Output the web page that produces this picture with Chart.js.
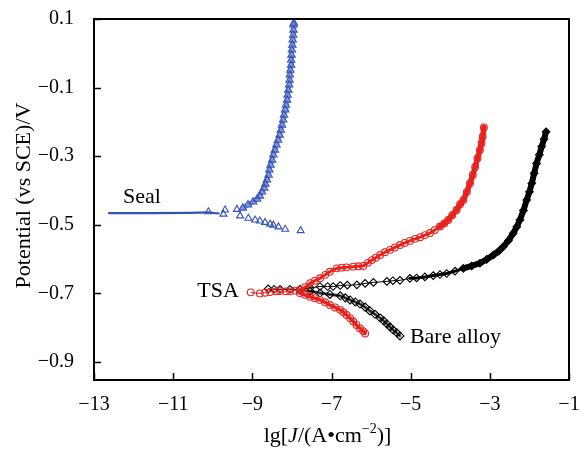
<!DOCTYPE html>
<html>
<head>
<meta charset="utf-8">
<script src="https://cdn.jsdelivr.net/npm/chart.js@4.4.1/dist/chart.umd.min.js"></script>
<style>
  body { margin: 0; background: #fff; }
  #wrap { width: 581px; height: 450px; }
</style>
</head>
<body>
<div id="wrap"><canvas id="tafel" width="581" height="450"></canvas></div>
<script>
// Axis ticks
const xTicks = [-13, -11, -9, -7, -5, -3, -1];
const yTicks = [-0.9, -0.7, -0.5, -0.3, -0.1, 0.1];

// Seal: flat cathodic line, scattered triangles, steep anodic branch  [lg J, E]
const sealLine = [[-12.62, -0.466], [-11.5, -0.466], [-10.6, -0.465], [-10.11, -0.464], [-9.85, -0.467]];
const sealCathodic = [
    [-10.11, -0.462], [-9.73, -0.469], [-9.69, -0.457], [-9.39, -0.455], [-9.31, -0.474],
    [-9.10, -0.481], [-8.93, -0.486], [-8.81, -0.489], [-8.68, -0.493], [-8.55, -0.498],
    [-8.47, -0.501], [-8.34, -0.506], [-8.17, -0.513], [-7.78, -0.517]
];
const sealAnodic = [
    [-9.24, -0.451], [-9.11, -0.442], [-8.98, -0.433], [-8.88, -0.425], [-8.81, -0.416],
    [-8.76, -0.404], [-8.70, -0.393], [-8.67, -0.381], [-8.63, -0.369], [-8.59, -0.355],
    [-8.57, -0.340], [-8.54, -0.326], [-8.50, -0.311], [-8.47, -0.296], [-8.43, -0.282],
    [-8.39, -0.267], [-8.35, -0.253], [-8.31, -0.238], [-8.28, -0.224], [-8.25, -0.209],
    [-8.22, -0.194], [-8.20, -0.180], [-8.17, -0.165], [-8.15, -0.151], [-8.12, -0.136],
    [-8.11, -0.122], [-8.09, -0.107], [-8.07, -0.092], [-8.06, -0.078], [-8.05, -0.063],
    [-8.04, -0.049], [-8.02, -0.034], [-8.02, -0.020], [-8.01, -0.005], [-8.00, 0.010],
    [-7.99, 0.024], [-7.98, 0.039], [-7.97, 0.053], [-7.96, 0.068], [-7.96, 0.083], [-7.95, 0.088]
];

// TSA
const tsaAnodic = [
    [-9.04, -0.697], [-8.81, -0.700], [-8.68, -0.698], [-8.55, -0.696], [-8.40, -0.694],
    [-8.30, -0.693], [-8.15, -0.694], [-8.05, -0.694], [-7.92, -0.692], [-7.80, -0.690],
    [-7.67, -0.682], [-7.54, -0.670], [-7.42, -0.663], [-7.29, -0.656], [-7.16, -0.646],
    [-7.04, -0.637], [-6.87, -0.627], [-6.75, -0.625], [-6.62, -0.624], [-6.45, -0.622],
    [-6.32, -0.621], [-6.20, -0.620], [-6.08, -0.611], [-5.98, -0.603], [-5.88, -0.596],
    [-5.77, -0.588], [-5.65, -0.580], [-5.52, -0.573], [-5.40, -0.566], [-5.27, -0.559],
    [-5.15, -0.553], [-5.02, -0.547], [-4.89, -0.541], [-4.76, -0.536], [-4.64, -0.530],
    [-4.51, -0.524], [-4.39, -0.515], [-4.26, -0.505], [-4.15, -0.496], [-4.05, -0.486],
    [-3.95, -0.472], [-3.84, -0.457], [-3.75, -0.440], [-3.67, -0.428], [-3.58, -0.404],
    [-3.50, -0.379], [-3.43, -0.355], [-3.37, -0.331], [-3.31, -0.306], [-3.25, -0.282],
    [-3.21, -0.262], [-3.18, -0.243], [-3.15, -0.216]
];
const tsaCathodic = [
    [-7.80, -0.699], [-7.67, -0.704], [-7.54, -0.710], [-7.42, -0.714], [-7.29, -0.719],
    [-7.16, -0.726], [-7.04, -0.734], [-6.91, -0.741], [-6.78, -0.748], [-6.70, -0.755],
    [-6.62, -0.763], [-6.53, -0.772], [-6.45, -0.782], [-6.37, -0.792], [-6.28, -0.802],
    [-6.20, -0.810], [-6.15, -0.817]
];

// Bare alloy
const bareAnodic = [
    [-8.60, -0.687], [-8.45, -0.688], [-8.30, -0.688], [-8.05, -0.688], [-7.80, -0.688],
    [-7.54, -0.684], [-7.29, -0.680], [-7.10, -0.680], [-6.96, -0.680], [-6.78, -0.677],
    [-6.60, -0.676], [-6.36, -0.675], [-6.15, -0.671], [-5.94, -0.668], [-5.60, -0.665],
    [-5.45, -0.663], [-5.27, -0.662], [-5.02, -0.656], [-4.85, -0.655], [-4.64, -0.652],
    [-4.43, -0.648], [-4.26, -0.645], [-4.09, -0.642], [-3.88, -0.635], [-3.67, -0.627],
    [-3.46, -0.620], [-3.25, -0.612], [-3.08, -0.601], [-2.91, -0.588], [-2.78, -0.577],
    [-2.66, -0.564], [-2.53, -0.546], [-2.41, -0.525], [-2.32, -0.506], [-2.24, -0.486],
    [-2.15, -0.458], [-2.07, -0.428], [-2.00, -0.404], [-1.94, -0.379], [-1.88, -0.350],
    [-1.82, -0.321], [-1.75, -0.296], [-1.69, -0.272], [-1.63, -0.250], [-1.58, -0.229]
];
const bareCathodic = [
    [-7.80, -0.690], [-7.54, -0.694], [-7.29, -0.699], [-7.04, -0.703], [-6.78, -0.707],
    [-6.65, -0.713], [-6.53, -0.719], [-6.40, -0.725], [-6.28, -0.731], [-6.15, -0.740],
    [-6.03, -0.751], [-5.90, -0.761], [-5.77, -0.772], [-5.68, -0.780], [-5.60, -0.789],
    [-5.52, -0.798], [-5.44, -0.807], [-5.35, -0.815], [-5.27, -0.824]
];

// where the markers start to pile up into a band, and where it turns solid
const tsaDenseFrom = -7.9;
const tsaSolidFrom = -4.30;
const bareDenseFrom = -5.1;
const bareSolidFrom = -3.70;

// curve names, placed in data units (left edge, baseline)
const curveLabels = [
    { text: 'Seal', x: -12.27, y: -0.436 },
    { text: 'TSA', x: -10.39, y: -0.710 },
    { text: 'Bare alloy', x: -5.02, y: -0.844 }
];

const serif = "'Liberation Serif', 'Times New Roman', serif";
const blue = '#3453b6';
const lightBlue = '#8797d6';
const red = '#e8231f';
const black = '#000000';
const grey = '#555555';
const hollow = 'rgba(255,255,255,0)';

function withMinus(v, digits) {
    return v.toFixed(digits).replace('-', '\u2212');
}

function markers(data, color, style, radius, order, line) {
    return {
        data,
        showLine: !!line,
        borderColor: color,
        borderWidth: 1,
        pointStyle: style,
        pointRadius: radius,
        pointBorderColor: color,
        pointBackgroundColor: hollow,
        pointBorderWidth: 1.1,
        order
    };
}

function band(data, color, width, order) {
    return {
        data,
        showLine: true,
        borderColor: color,
        borderWidth: width,
        borderJoinStyle: 'round',
        borderCapStyle: 'round',
        pointRadius: 0,
        order
    };
}

const from = (arr, x0) => arr.filter(p => p[0] >= x0);

function drawXTitle(ctx, cx, baseline) {
    const size = 22;
    const parts = [
        { t: 'lg[', f: `${size}px ${serif}`, dy: 0 },
        { t: 'J', f: `italic ${size}px ${serif}`, dy: 0 },
        { t: '/(A\u2022cm', f: `${size}px ${serif}`, dy: 0 },
        { t: '\u22122', f: `${Math.round(size * 0.62)}px ${serif}`, dy: -9 },
        { t: ')]', f: `${size}px ${serif}`, dy: 0 }
    ];
    let total = 0;
    parts.forEach(p => { ctx.font = p.f; p.w = ctx.measureText(p.t).width; total += p.w; });
    let x = cx - total / 2;
    ctx.textAlign = 'left';
    ctx.textBaseline = 'alphabetic';
    parts.forEach(p => {
        ctx.font = p.f;
        ctx.fillText(p.t, x, baseline + p.dy);
        x += p.w;
    });
}

// frame, inward ticks, titles and curve names
const framePlugin = {
    id: 'frame',
    afterDraw(chart) {
        const { ctx, chartArea: a, scales } = chart;
        ctx.save();
        ctx.strokeStyle = '#000';
        ctx.fillStyle = '#000';
        ctx.lineWidth = 2;
        ctx.strokeRect(a.left, a.top, a.right - a.left, a.bottom - a.top);

        ctx.lineWidth = 1.5;
        ctx.beginPath();
        yTicks.forEach(v => {
            const y = Math.round(scales.y.getPixelForValue(v)) + 0.5;
            ctx.moveTo(a.left, y);
            ctx.lineTo(a.left + 7, y);
        });
        xTicks.forEach(v => {
            const x = Math.round(scales.x.getPixelForValue(v)) + 0.5;
            ctx.moveTo(x, a.bottom);
            ctx.lineTo(x, a.bottom - 7);
        });
        ctx.stroke();

        ctx.font = `22px ${serif}`;
        ctx.textAlign = 'left';
        ctx.textBaseline = 'alphabetic';
        curveLabels.forEach(l => {
            ctx.fillText(l.text, scales.x.getPixelForValue(l.x), scales.y.getPixelForValue(l.y));
        });

        ctx.save();
        ctx.translate(24, (a.top + a.bottom) / 2 - 4);
        ctx.rotate(-Math.PI / 2);
        ctx.textAlign = 'center';
        ctx.textBaseline = 'middle';
        ctx.font = `22px ${serif}`;
        ctx.fillText('Potential (vs SCE)/V', 0, 0);
        ctx.restore();

        drawXTitle(ctx, (a.left + a.right) / 2 - 4, 442);
        ctx.restore();
    }
};

window.onload = () => {
    const ctx = document.getElementById('tafel').getContext('2d');
    new Chart(ctx, {
        type: 'scatter',
        data: {
            datasets: [
                band(sealLine, blue, 2.2, 1),
                markers(sealCathodic, blue, 'triangle', 4, 1, false),
                markers(sealAnodic, blue, 'triangle', 4.3, 1, false),
                band(sealAnodic, lightBlue, 5, 2),

                band(from(tsaAnodic, tsaSolidFrom), red, 5.5, 3),
                markers(tsaAnodic, red, 'circle', 3.4, 4, true),
                markers(tsaCathodic, red, 'circle', 3.4, 4, true),
                band(from(tsaAnodic, tsaDenseFrom), red, 3, 5),
                band(tsaCathodic, red, 3.5, 5),

                band(from(bareAnodic, bareSolidFrom), black, 6, 6),
                markers(bareAnodic, black, 'rectRot', 3.8, 7, true),
                markers(bareCathodic, black, 'rectRot', 4, 7, true),
                band(from(bareAnodic, bareDenseFrom), black, 3, 8),
                band(bareCathodic, grey, 3, 8)
            ]
        },
        options: {
            responsive: false,
            animation: false,
            devicePixelRatio: 1,
            layout: { padding: { left: 0, right: 12, top: 19, bottom: 0 } },
            plugins: { legend: { display: false }, tooltip: { enabled: false } },
            scales: {
                x: {
                    type: 'linear',
                    min: -13,
                    max: -1,
                    grid: { display: false },
                    border: { display: false },
                    afterBuildTicks: s => { s.ticks = xTicks.map(v => ({ value: v })); },
                    afterFit: s => { s.height = 70; s.paddingLeft = 0; s.paddingRight = 0; },
                    ticks: {
                        color: '#000',
                        padding: 5,
                        maxRotation: 0,
                        font: { family: serif, size: 20 },
                        callback: v => withMinus(v, 0)
                    }
                },
                y: {
                    type: 'linear',
                    min: -0.9525,
                    max: 0.1,
                    grid: { display: false },
                    border: { display: false },
                    afterBuildTicks: s => { s.ticks = yTicks.map(v => ({ value: v })); },
                    afterFit: s => { s.width = 94; s.paddingTop = 0; s.paddingBottom = 0; },
                    ticks: {
                        color: '#000',
                        padding: 12,
                        font: { family: serif, size: 20 },
                        callback: v => withMinus(v, 1)
                    }
                }
            }
        },
        plugins: [framePlugin]
    });
};
</script>
</body>
</html>
